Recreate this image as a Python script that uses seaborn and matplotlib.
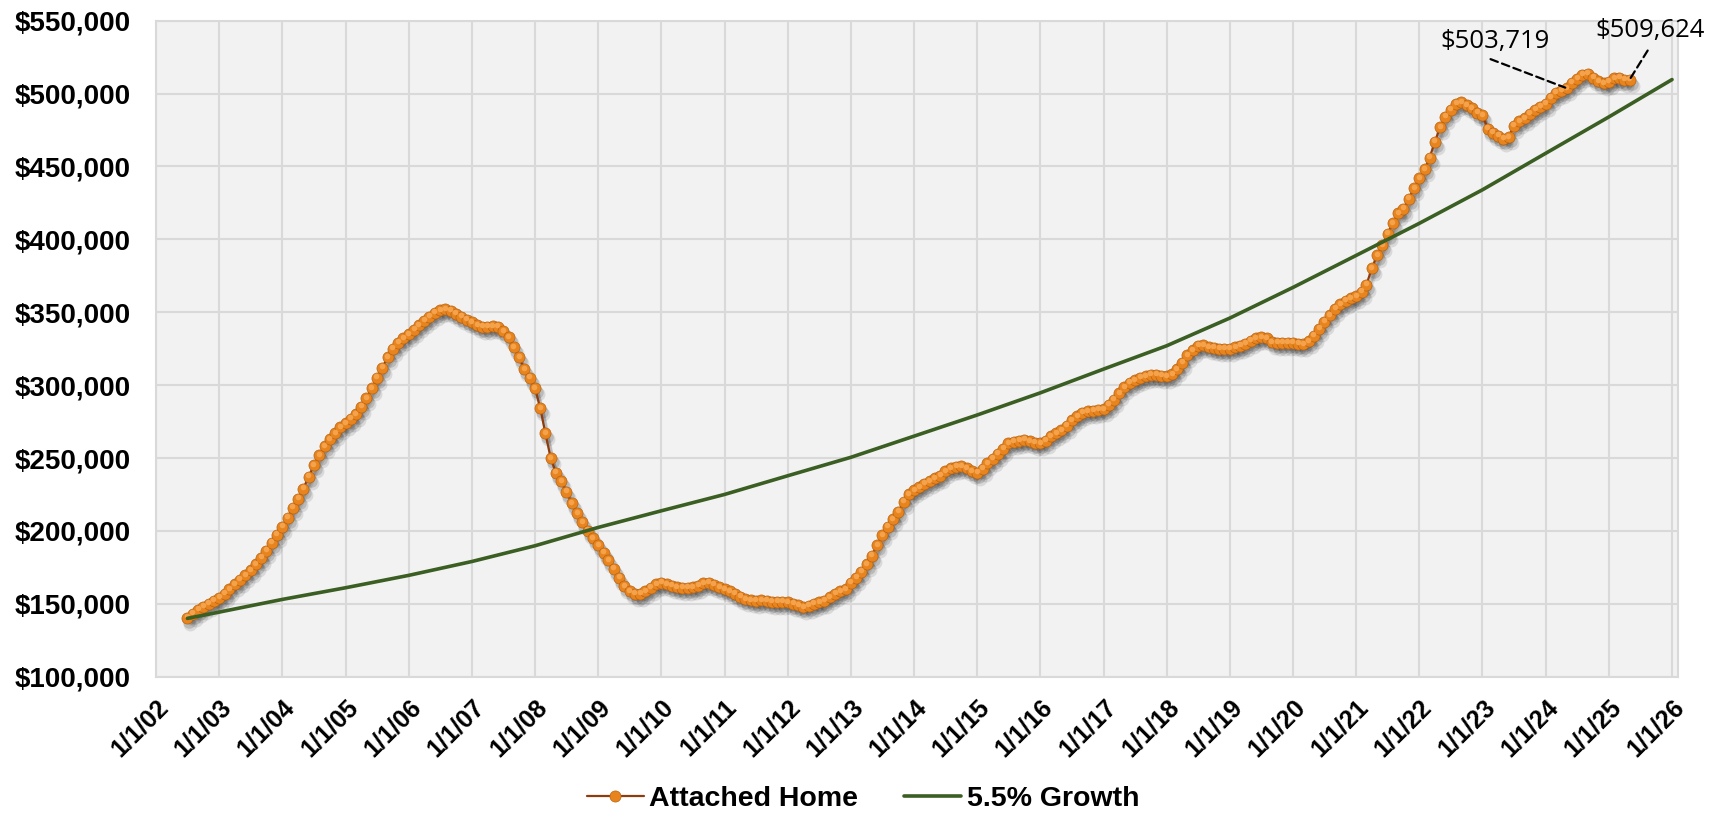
import pandas as pd
import matplotlib
matplotlib.use("Agg")
import matplotlib.pyplot as plt
import matplotlib.dates as mdates
from matplotlib.ticker import FuncFormatter
from matplotlib.transforms import offset_copy
import seaborn as sns

# 月次の中央値（Attached Home）2002年7月〜2025年5月
attached_start = "2002-07-01"
attached_values = [
    140500, 143000, 146000, 148000, 150000, 152000,                          # 2002 (Jul-Dec)
    154000, 157000, 160000, 163500, 166500, 169500, 173000, 177000, 181500, 186500, 192000, 197500,  # 2003
    203000, 209000, 216000, 222000, 229000, 237000, 245000, 252000, 258000, 263000, 267000, 271000,  # 2004
    274000, 277000, 280000, 285000, 291000, 298000, 305000, 312000, 319000, 325000, 329000, 332000,  # 2005
    335000, 338000, 341000, 344000, 347000, 349500, 351500, 352000, 351000, 349000, 347000, 345000,  # 2006
    343000, 341000, 340000, 340000, 340500, 340000, 337000, 333000, 326000, 319000, 311000, 305000,  # 2007
    298000, 284000, 267000, 250000, 240000, 234000, 227000, 219000, 212000, 206000, 200000, 195000,  # 2008
    190000, 185000, 180000, 174000, 168000, 162000, 158500, 157000, 157000, 158500, 161000, 163500,  # 2009
    164500, 163500, 162500, 161500, 161000, 161000, 161500, 162500, 164000, 164500, 163000, 161500,  # 2010
    160000, 158500, 157000, 155000, 153000, 152500, 152000, 152500, 152000, 151500, 151500, 151500,  # 2011
    151000, 150000, 149000, 147500, 148500, 150000, 151000, 152000, 154500, 157000, 158500, 160000,  # 2012
    164500, 168000, 172000, 177000, 183000, 190000, 197000, 203000, 208000, 213000, 220000, 225000,  # 2013
    228000, 230000, 232500, 234000, 236000, 238000, 241000, 243000, 244000, 244500, 243000, 241000,  # 2014
    240000, 242500, 246500, 249500, 253000, 256500, 260000, 261000, 262000, 262500, 261500, 260500,  # 2015
    260000, 262000, 265000, 267000, 269000, 272000, 276000, 278500, 281000, 282000, 282500, 283000,  # 2016
    283500, 286500, 290000, 294500, 298500, 301500, 303500, 305000, 306000, 307000, 307000, 306500,  # 2017
    306000, 307500, 311000, 315500, 320500, 324000, 327000, 327500, 326000, 325500, 325000, 325000,  # 2018
    325000, 326000, 327000, 328500, 330500, 332000, 333000, 332000, 329500, 329000, 329000, 329000,  # 2019
    329000, 328500, 328000, 330000, 334000, 338500, 343500, 348000, 352500, 355500, 358000, 359500,  # 2020
    361000, 364000, 369000, 380000, 389000, 396000, 404000, 411000, 418000, 421000, 428000, 435000,  # 2021
    442000, 448000, 456000, 467000, 477000, 484000, 489000, 493000, 494000, 492000, 490000, 487000,  # 2022
    485000, 476000, 473000, 471000, 469000, 470000, 478000, 481000, 483000, 486000, 489000, 491000,  # 2023
    493000, 497000, 500500, 502000, 503719, 507500, 510000, 513000, 513500, 511000, 508500, 507000,  # 2024
    508000, 510500, 511000, 509500, 509624,                                  # 2025 (Jan-May)
]

# 5.5%成長ライン（各年1月1日時点の値）
growth_dates = ["2002-07-01"] + [f"{y}-01-01" for y in range(2003, 2027)]
growth_values = [
    140000, 144300, 153000, 161000, 169500, 179000, 189800, 202400, 213800,
    225000, 237800, 250500, 265000, 279500, 294700, 311000, 327000, 346000,
    367000, 389000, 411000, 434000, 459000, 484000, 509600,
]

# 注記
ann_dates = ["2024-05-01", "2025-05-01"]
ann_values = [503719, 509624]
ann_labels = ["$503,719", "$509,624"]

y_ticks = list(range(100000, 550001, 50000))

df = pd.DataFrame({
    "date": pd.date_range(attached_start, periods=len(attached_values), freq="MS"),
    "price": attached_values,
})
gdf = pd.DataFrame({"date": pd.to_datetime(growth_dates), "price": growth_values})

sns.set_style("whitegrid", {
    "axes.facecolor": "#F2F2F2",
    "grid.color": "#D9D9D9",
    "axes.edgecolor": "#D9D9D9",
    "text.color": "black",
    "xtick.color": "black",
    "ytick.color": "black",
})
plt.rcParams["font.family"] = ["Liberation Sans", "DejaVu Sans"]

fig = plt.figure(figsize=(17.19, 8.14), dpi=100)
ax = fig.add_axes([0.0908, 0.1687, 0.8854, 0.8059])

# 影（ぼかし風に2層）
for (dx, dy, a, ms) in [(3, -6, 0.10, 10), (2, -4, 0.14, 9)]:
    tr = offset_copy(ax.transData, fig=fig, x=dx, y=dy, units="dots")
    ax.plot(df["date"], df["price"], transform=tr, color="black", alpha=a,
            lw=3, marker="o", ms=ms, mew=0, zorder=1)

sns.lineplot(data=df, x="date", y="price", ax=ax, color="#8E3B0E", lw=1.6,
             marker="o", markersize=8, markerfacecolor="#E8841E",
             markeredgecolor="#B9620F", markeredgewidth=0.5,
             label="Attached Home", zorder=3)
# ハイライト
hl = offset_copy(ax.transData, fig=fig, x=-0.5, y=1.5, units="dots")
ax.plot(df["date"], df["price"], transform=hl, ls="none", marker="o",
        ms=4, mew=0, color="#F4A24C", zorder=4)

sns.lineplot(data=gdf, x="date", y="price", ax=ax, color="#3B5E23", lw=2.6,
             label="5.5% Growth", zorder=5)

for d, v, lab, line_off, text_off in zip(
        ann_dates, ann_values, ann_labels,
        [(-76, 29), (18, 29)], [(-72, 47), (20, 49)]):
    d = pd.Timestamp(d)
    ax.annotate("", xy=(d, v), xytext=line_off, textcoords="offset pixels",
                arrowprops=dict(arrowstyle="-", color="black", lw=1.6,
                                ls=(0, (3.5, 2)), shrinkA=0, shrinkB=1),
                zorder=6)
    ax.annotate(lab, xy=(d, v), xytext=text_off, textcoords="offset pixels",
                ha="center", va="center", fontsize=18.5, family=["Open Sans", "DejaVu Sans"],
                color="black", annotation_clip=False, zorder=6)

ax.set_xlim(pd.Timestamp("2002-01-01"), pd.Timestamp("2026-02-05"))
ax.set_ylim(100000, 550000)
ax.set_yticks(y_ticks)
ax.yaxis.set_major_formatter(FuncFormatter(lambda v, p: f"${v:,.0f}"))
ax.xaxis.set_major_locator(mdates.YearLocator())
ax.xaxis.set_major_formatter(FuncFormatter(
    lambda v, p: (lambda t: f"{t.month}/{t.day}/{t:%y}")(mdates.num2date(v))))
ax.set_xlabel("")
ax.set_ylabel("")
ax.grid(True, color="#D9D9D9", lw=1.5)
for s in ax.spines.values():
    s.set_color("#D9D9D9")
    s.set_linewidth(1.5)

ax.tick_params(axis="y", length=0, pad=18, labelsize=20, labelcolor="black")
ax.tick_params(axis="x", length=0, pad=13, labelsize=18, labelrotation=45,
               labelcolor="black")
for t in ax.get_yticklabels():
    t.set_fontweight("bold")
for t in ax.get_xticklabels():
    t.set_fontweight("bold")
    t.set_ha("right")
    t.set_va("top")
    t.set_rotation_mode("anchor")

handles, labels = ax.get_legend_handles_labels()
ax.get_legend().remove()
fig.legend(handles, labels, loc="center", bbox_to_anchor=(0.502, 0.019),
           ncol=2, frameon=False, handlelength=2.0, handletextpad=0.2,
           columnspacing=1.6, labelcolor="black",
           prop={"weight": "bold", "size": 20.5})

fig.savefig("out.png", dpi=100, facecolor="white")
